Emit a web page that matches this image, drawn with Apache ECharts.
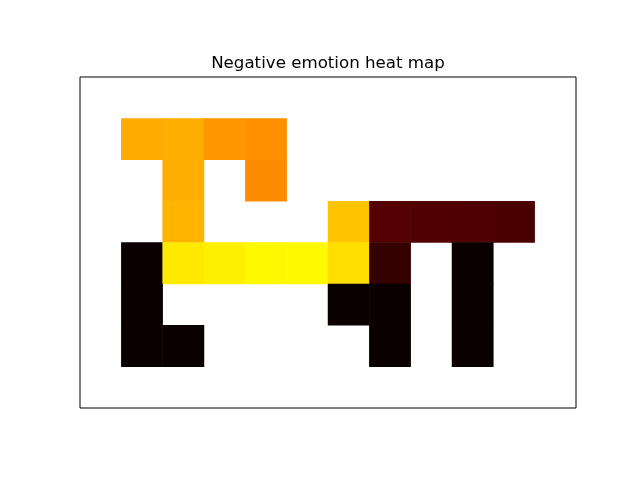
<!DOCTYPE html>
<html>
<head>
<meta charset="utf-8">
<script src="https://cdn.jsdelivr.net/npm/echarts@6/dist/echarts.min.js"></script>
<style>html,body{margin:0;padding:0;background:#fff;}#c{width:640px;height:480px;}</style>
</head>
<body>
<div id="c"></div>
<script>
var columns = ['0','1','2','3','4','5','6','7','8','9','10','11'];
var rowsLabels = ['0','1','2','3','4','5','6','7'];
var row0 = [null,null,null,null,null,null,null,null,null,null,null,null];
var row1 = [null,0.619,0.623,0.589,0.579,null,null,null,null,null,null,null];
var row2 = [null,null,0.625,null,0.574,null,null,null,null,null,null,null];
var row3 = [null,null,0.634,null,null,null,0.658,0.111,0.104,0.102,0.092,null];
var row4 = [null,0,0.713,0.724,0.737,0.738,0.697,0.063,null,0,null,null];
var row5 = [null,0,null,null,null,null,0,0,null,0,null,null];
var row6 = [null,0,0,null,null,null,null,0,null,0,null,null];
var row7 = [null,null,null,null,null,null,null,null,null,null,null,null];
var rows = [row0,row1,row2,row3,row4,row5,row6,row7];

var data = [];
rows.forEach(function(r, yi){
  r.forEach(function(v, xi){
    if (v !== null) data.push([xi, yi, v]);
  });
});

// matplotlib 'hot' colormap stops
function lin(t, pts){
  for (var i=1;i<pts.length;i++){
    if (t <= pts[i][0]){
      var a=pts[i-1], b=pts[i];
      return a[1] + (b[1]-a[1])*(t-a[0])/(b[0]-a[0]);
    }
  }
  return pts[pts.length-1][1];
}
var R=[[0,0.0416],[0.365079,1],[1,1]];
var G=[[0,0],[0.365079,0],[0.746032,1],[1,1]];
var B=[[0,0],[0.746032,0],[1,1]];
var hot=[];
for (var i=0;i<=200;i++){
  var t=i/200;
  hot.push('rgb('+Math.round(lin(t,R)*255)+','+Math.round(lin(t,G)*255)+','+Math.round(lin(t,B)*255)+')');
}

var chart = echarts.init(document.getElementById('c'));
chart.setOption({
  animation:false,
  backgroundColor:'#fff',
  title:{
    text:'Negative emotion heat map',
    left:328, top:55, textAlign:'center', padding:0,
    textStyle:{fontFamily:'DejaVu Sans', fontSize:16.67, fontWeight:'normal', color:'#000'}
  },
  grid:{left:80, top:77, width:496, height:331, show:true, borderColor:'#000', borderWidth:1, backgroundColor:'#fff'},
  xAxis:{type:'category', data:columns, axisLine:{show:false}, axisTick:{show:false}, axisLabel:{show:false}, splitLine:{show:false}},
  yAxis:{type:'category', data:rowsLabels, inverse:true, axisLine:{show:false}, axisTick:{show:false}, axisLabel:{show:false}, splitLine:{show:false}},
  visualMap:{show:false, min:0, max:1, calculable:false, inRange:{color:hot}},
  series:[{type:'heatmap', data:data, itemStyle:{borderWidth:0}, emphasis:{disabled:true}}]
});
</script>
</body>
</html>
